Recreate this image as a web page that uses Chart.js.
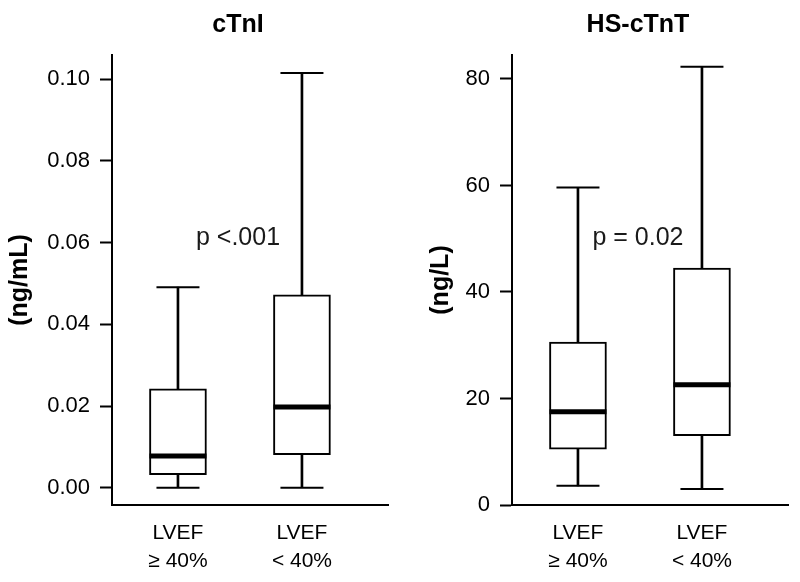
<!DOCTYPE html>
<html>
<head>
<meta charset="utf-8">
<script src="https://cdn.jsdelivr.net/npm/chart.js@4"></script>
<style>
  html, body { margin: 0; padding: 0; background: #fff; }
  .wrap { display: flex; width: 800px; height: 582px; }
  .panel { position: relative; width: 400px; height: 582px; }
</style>
</head>
<body>
<div class="wrap">
  <div class="panel"><canvas id="chartI"></canvas></div>
  <div class="panel"><canvas id="chartT"></canvas></div>
</div>
<script>
/* ── DATA ─────────────────────────────────────────────── */
const groupPos    = [1, 2];
const groupLabels = [["LVEF", "≥ 40%"], ["LVEF", "< 40%"]];

// cTnI (ng/mL)
const ctniMin    = [0.000, 0.000];
const ctniQ1     = [0.0032, 0.0081];
const ctniMedian = [0.0078, 0.0198];
const ctniQ3     = [0.0242, 0.0472];
const ctniMax    = [0.0491, 0.1015];
const ctniTicks  = [0, 0.02, 0.04, 0.06, 0.08, 0.10];
const ctniTickLabels = ["0.00", "0.02", "0.04", "0.06", "0.08", "0.10"];

// HS-cTnT (ng/L)
const tntMin    = [3.6, 3.0];
const tntQ1     = [10.5, 13.0];
const tntMedian = [17.5, 22.6];
const tntQ3     = [30.6, 44.5];
const tntMax    = [59.6, 82.3];
const tntTicks  = [0, 20, 40, 60, 80];
const tntTickLabels = ["0", "20", "40", "60", "80"];

const FONT = "'Liberation Sans', Arial, Helvetica, sans-serif";

/* ── TEXT OVERLAY (panel title + p value) ─────────────── */
const overlayPlugin = {
  id: "overlay",
  afterDraw(chart, args, opts) {
    const ctx = chart.ctx;
    ctx.save();
    ctx.fillStyle = "#000";
    ctx.textAlign = "center";
    ctx.textBaseline = "middle";
    ctx.font = `bold 25px ${FONT}`;
    ctx.fillText(opts.title, opts.titleX, 25);
    ctx.font = `25px ${FONT}`;
    ctx.fillStyle = "#1a1a1a";
    ctx.fillText(opts.pText, opts.pX, 238);
    ctx.restore();
  }
};

function points(ys) {
  return groupPos.map((x, i) => ({ x, y: ys[i] }));
}
function ranges(lo, hi) {
  return groupPos.map((x, i) => ({ x, y: [lo[i], hi[i]] }));
}

function makeBoxChart(id, d) {
  return new Chart(document.getElementById(id), {
    type: "bar",
    data: {
      datasets: [
        { // whisker stem min..max (box covers the middle)
          type: "bar", data: ranges(d.min, d.max), grouped: false,
          barThickness: 2, backgroundColor: "#000", borderWidth: 0, order: 3
        },
        { // box q1..q3
          type: "bar", data: ranges(d.q1, d.q3), grouped: false,
          barThickness: 57, backgroundColor: "#fff", borderColor: "#000",
          borderWidth: 2, borderSkipped: false, order: 2
        },
        { // whisker caps
          type: "line", data: points(d.min).concat(points(d.max)), showLine: false,
          pointStyle: "line", pointRadius: 21.5, pointBorderWidth: 2,
          pointBorderColor: "#000", order: 1
        },
        { // median
          type: "line", data: points(d.median), showLine: false,
          pointStyle: "line", pointRadius: 28.5, pointBorderWidth: 5,
          pointBorderColor: "#000", order: 0
        }
      ]
    },
    options: {
      responsive: false,
      animation: false,
      events: [],
      layout: {
        autoPadding: false,
        padding: { left: d.padLeft, right: 12, top: 55, bottom: 0 }
      },
      plugins: {
        legend: { display: false },
        tooltip: { enabled: false },
        overlay: { title: d.title, titleX: 238, pText: d.pText, pX: d.pX }
      },
      scales: {
        x: {
          type: "linear",
          offset: false,
          min: 0.468, max: 2.694,
          afterBuildTicks: ax => { ax.ticks = groupPos.map(v => ({ value: v })); },
          afterFit: ax => { ax.height = 77; ax.paddingLeft = 0; ax.paddingRight = 0; },
          grid: { display: false, offset: false },
          border: { display: true, color: "#000", width: 2 },
          ticks: {
            color: "#000", padding: 7, maxRotation: 0, autoSkip: false,
            font: { family: FONT, size: 21, lineHeight: 1.3 },
            callback: (v, i) => groupLabels[i]
          }
        },
        y: {
          min: d.yMin, max: d.yMax,
          afterBuildTicks: ax => { ax.ticks = d.ticks.map(v => ({ value: v })); },
          afterFit: ax => { ax.width = 112 - d.padLeft; },
          grid: {
            drawOnChartArea: false, drawTicks: true, tickLength: 12,
            tickWidth: 2, tickColor: "#000"
          },
          border: { display: true, color: "#000", width: 2 },
          ticks: {
            color: "#000", padding: 10,
            font: { family: FONT, size: 22 },
            callback: (v, i) => d.tickLabels[i]
          },
          title: {
            display: true, text: d.yTitle, color: "#000", padding: 0,
            font: { family: FONT, size: 25, weight: "bold", lineHeight: 1.2 }
          }
        }
      }
    },
    plugins: [overlayPlugin]
  });
}

function sizeCanvas(id) {
  const c = document.getElementById(id);
  c.width = 400; c.height = 582;
  c.style.width = "400px"; c.style.height = "582px";
}
sizeCanvas("chartI");
sizeCanvas("chartT");

makeBoxChart("chartI", {
  min: ctniMin, q1: ctniQ1, median: ctniMedian, q3: ctniQ3, max: ctniMax,
  ticks: ctniTicks, tickLabels: ctniTickLabels,
  yMin: -0.0042, yMax: 0.1059, padLeft: 5,
  yTitle: "(ng/mL)", title: "cTnI", pText: "p <.001", pX: 238
});

makeBoxChart("chartT", {
  min: tntMin, q1: tntQ1, median: tntMedian, q3: tntQ3, max: tntMax,
  ticks: tntTicks, tickLabels: tntTickLabels,
  yMin: 0, yMax: 84.5, padLeft: 26,
  yTitle: "(ng/L)", title: "HS-cTnT", pText: "p = 0.02", pX: 238
});
</script>
</body>
</html>
